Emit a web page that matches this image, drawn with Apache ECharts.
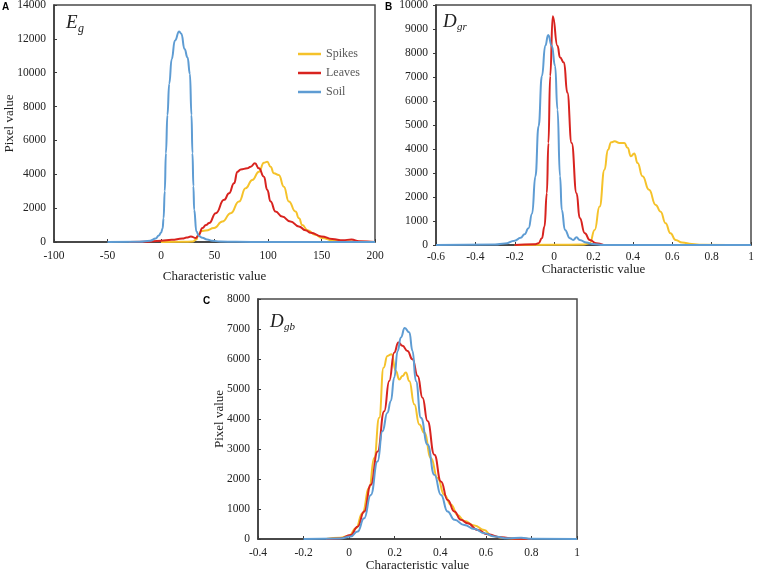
<!DOCTYPE html>
<html>
<head>
<meta charset="utf-8">
<script src="https://cdn.jsdelivr.net/npm/echarts@6/dist/echarts.min.js"></script>
<style>html,body{margin:0;padding:0;background:#fff}#c{width:758px;height:578px}</style>
</head>
<body>
<div id="c"></div>
<script>
// ---------- Panel A (Eg) ----------
const aSpikesX = [0, 20, 30, 33, 35, 38, 41.9, 49.6, 57.4, 65.1, 72.9, 79.1, 85.3, 91.5, 96.2, 99.3, 102.4, 105.5, 110.1, 114.8, 119.5, 125.7, 129, 132, 137, 144, 150.6, 160, 172, 185, 200];
const aSpikesY = [0, 10, 30, 150, 450, 650, 680, 820, 1210, 1700, 2390, 3170, 3660, 4150, 4680, 4740, 4450, 4060, 3960, 3270, 2390, 1800, 1400, 1000, 700, 430, 235, 100, 40, 10, 0];
const aLeavesX = [-30, -15, 0, 10, 20, 24, 27.9, 32.6, 35, 38.8, 42, 45, 51.2, 59, 63.6, 68.3, 71.4, 74.5, 80.7, 83.8, 87.8, 91.5, 96.2, 99.3, 102.4, 107, 113.2, 121, 128.8, 135, 140, 150, 160, 170, 178, 185, 200];
const aLeavesY = [0, 20, 80, 130, 200, 260, 330, 235, 400, 820, 1000, 1120, 1700, 2490, 2880, 3470, 4150, 4290, 4350, 4450, 4650, 4350, 3860, 3080, 2390, 1800, 1500, 1210, 920, 700, 550, 330, 176, 100, 150, 40, 0];
const aSoilX = [-50, -20, -10, -5, -2, 0, 1.5, 2.4, 3.5, 4.6, 6, 7.7, 10, 13, 17, 19, 22, 24.8, 27, 28.5, 29.4, 30.3, 31, 33.1, 35.5, 38.7, 43, 48, 55, 70, 100, 150, 200];
const aSoilY = [0, 20, 80, 200, 380, 550, 800, 1400, 3000, 5250, 7500, 9350, 10800, 11900, 12430, 12300, 11400, 10900, 9940, 7500, 5250, 3300, 1900, 620, 350, 250, 150, 75, 30, 10, 0, 0, 0];

// ---------- Panel B (Dgr) ----------
const bSpikesX = [-0.2, 0, 0.15, 0.181, 0.206, 0.231, 0.256, 0.273, 0.29, 0.307, 0.332, 0.357, 0.373, 0.39, 0.407, 0.424, 0.449, 0.482, 0.516, 0.541, 0.566, 0.591, 0.617, 0.65, 0.7, 0.75, 0.88];
const bSpikesY = [0, 10, 20, 70, 630, 1600, 3140, 3970, 4280, 4320, 4250, 4250, 4050, 3700, 3810, 3420, 2860, 2300, 1670, 1390, 910, 490, 210, 100, 40, 10, 0];
const bLeavesX = [-0.2, -0.1, -0.079, -0.062, -0.049, -0.037, -0.029, -0.02, -0.007, 0.017, 0.03, 0.05, 0.067, 0.089, 0.114, 0.13, 0.156, 0.181, 0.214, 0.25];
const bLeavesY = [0, 30, 70, 280, 770, 2160, 4250, 7040, 9530, 8300, 7810, 7600, 6350, 4250, 2160, 1120, 490, 210, 70, 0];
const bSoilX = [-0.6, -0.3, -0.25, -0.2, -0.17, -0.15, -0.13, -0.112, -0.095, -0.079, -0.062, -0.045, -0.03, -0.012, 0.005, 0.017, 0.03, 0.039, 0.055, 0.08, 0.097, 0.114, 0.13, 0.164, 0.197, 0.25, 0.4, 1];
const bSoilY = [0, 20, 60, 180, 300, 450, 700, 1300, 2860, 4950, 7040, 8300, 8750, 8300, 7460, 5650, 2860, 1460, 630, 280, 210, 320, 210, 100, 40, 0, 0, 0];

// ---------- Panel C (Dgb) ----------
const cSpikesX = [-0.1, -0.04, 0, 0.03, 0.058, 0.088, 0.11, 0.132, 0.151, 0.168, 0.186, 0.205, 0.22, 0.234, 0.249, 0.264, 0.286, 0.308, 0.33, 0.359, 0.388, 0.418, 0.447, 0.476, 0.505, 0.55, 0.593, 0.623, 0.667, 0.74, 0.8];
const cSpikesY = [0, 45, 110, 360, 860, 1700, 2700, 4040, 5710, 6100, 6160, 5600, 5320, 5430, 5550, 5270, 4490, 3820, 3540, 2700, 2030, 1470, 1140, 800, 600, 450, 300, 110, 45, 10, 0];
const cLeavesX = [-0.1, -0.04, 0.007, 0.037, 0.066, 0.095, 0.125, 0.154, 0.176, 0.198, 0.216, 0.234, 0.256, 0.278, 0.301, 0.322, 0.344, 0.374, 0.403, 0.432, 0.462, 0.49, 0.52, 0.564, 0.608, 0.667, 0.725, 0.8];
const cLeavesY = [0, 20, 130, 410, 915, 1810, 2920, 4260, 5270, 6220, 6550, 6440, 6270, 5990, 5430, 4710, 3930, 2810, 1920, 1300, 915, 640, 525, 300, 155, 55, 10, 0];
const cSoilX = [-0.2, -0.04, 0.007, 0.037, 0.066, 0.095, 0.125, 0.146, 0.168, 0.183, 0.198, 0.213, 0.227, 0.244, 0.264, 0.278, 0.293, 0.315, 0.344, 0.374, 0.403, 0.432, 0.462, 0.505, 0.55, 0.593, 0.637, 0.696, 0.755, 0.8, 1];
const cSoilY = [0, 20, 80, 250, 690, 1470, 2590, 3590, 4210, 4600, 5380, 6270, 6720, 7030, 6890, 6270, 5270, 4040, 3150, 2140, 1470, 915, 640, 470, 335, 190, 80, 22, 45, 10, 0];

const seriesNames = ['Spikes', 'Leaves', 'Soil'];
const colors = ['#F5C22A', '#D8231F', '#5E9CD3'];

const serif = '"Liberation Serif","Times New Roman",serif';
const zip = (xs, ys) => xs.map((x, i) => [x, ys[i]]);
const fmt = v => String(Math.round(v * 10) / 10);
const fmtInt = v => String(v);

function mkX(gi, min, max, interval, nameGap, labelMargin) {
  return {
    gridIndex: gi, type: 'value', min: min, max: max, interval: interval,
    name: 'Characteristic value', nameLocation: 'middle', nameGap: nameGap, nameMoveOverlap: false,
    nameTextStyle: { fontFamily: serif, fontSize: 13, color: '#222' },
    axisLine: { onZero: false, lineStyle: { color: '#3a3a3a', width: 1.5 } },
    axisTick: { inside: true, length: 3, lineStyle: { color: '#3a3a3a' } },
    axisLabel: { fontFamily: serif, fontSize: 11.5, color: '#222', margin: labelMargin, formatter: fmt },
    splitLine: { show: false }
  };
}
function mkY(gi, max, interval, name, nameGap, inside) {
  return {
    gridIndex: gi, type: 'value', min: 0, max: max, interval: interval,
    name: name, nameLocation: 'middle', nameGap: nameGap, nameMoveOverlap: false,
    nameTextStyle: { fontFamily: serif, fontSize: 13, color: '#222' },
    axisLine: { show: true, onZero: false, lineStyle: { color: '#3a3a3a', width: 1.5 } },
    axisTick: { show: true, inside: inside, length: 3, lineStyle: { color: '#3a3a3a' } },
    axisLabel: { fontFamily: serif, fontSize: 11.5, color: '#222', margin: 8, formatter: fmtInt },
    splitLine: { show: false }
  };
}
function mkS(name, gi, xs, ys) {
  const idx = seriesNames.indexOf(name);
  return {
    name: name, type: 'line', xAxisIndex: gi, yAxisIndex: gi,
    data: zip(xs, ys), showSymbol: false, symbol: 'none',
    smooth: 0.5, smoothMonotone: 'x',
    lineStyle: { color: colors[idx], width: 2 },
    itemStyle: { color: colors[idx] }
  };
}
const gridBase = { show: true, borderColor: '#4a4a4a', borderWidth: 1.5, containLabel: false, outerBoundsMode: 'none' };

const chart = echarts.init(document.getElementById('c'), null, { renderer: 'canvas' });
chart.setOption({
  animation: false,
  backgroundColor: '#fff',
  grid: [
    Object.assign({ left: 54, right: 383, top: 5, bottom: 336 }, gridBase),
    Object.assign({ left: 436, right: 7, top: 5, bottom: 333 }, gridBase),
    Object.assign({ left: 258, right: 181, top: 299, bottom: 39 }, gridBase)
  ],
  xAxis: [
    mkX(0, -100, 200, 50, 28, 8),
    mkX(1, -0.6, 1, 0.2, 18, 6),
    mkX(2, -0.4, 1, 0.2, 20, 8)
  ],
  yAxis: [
    mkY(0, 14000, 2000, 'Pixel value', 38, true),
    mkY(1, 10000, 1000, '', 40, false),
    mkY(2, 8000, 1000, 'Pixel value', 32, true)
  ],
  legend: {
    data: seriesNames, orient: 'vertical', left: 293, top: 43,
    icon: 'rect', itemWidth: 23, itemHeight: 2.5, itemGap: 7,
    textStyle: { fontFamily: serif, fontSize: 12, color: '#595959', lineHeight: 12 }
  },
  series: [
    mkS('Spikes', 0, aSpikesX, aSpikesY),
    mkS('Leaves', 0, aLeavesX, aLeavesY),
    mkS('Soil', 0, aSoilX, aSoilY),
    mkS('Spikes', 1, bSpikesX, bSpikesY),
    mkS('Leaves', 1, bLeavesX, bLeavesY),
    mkS('Soil', 1, bSoilX, bSoilY),
    mkS('Spikes', 2, cSpikesX, cSpikesY),
    mkS('Leaves', 2, cLeavesX, cLeavesY),
    mkS('Soil', 2, cSoilX, cSoilY)
  ],
  graphic: [
    { type: 'text', left: 2, top: 2, style: { text: 'A', fontFamily: 'Liberation Sans, Arial, sans-serif', fontWeight: 'bold', fontSize: 10, fill: '#000' } },
    { type: 'text', left: 385, top: 2, style: { text: 'B', fontFamily: 'Liberation Sans, Arial, sans-serif', fontWeight: 'bold', fontSize: 10, fill: '#000' } },
    { type: 'text', left: 203, top: 296, style: { text: 'C', fontFamily: 'Liberation Sans, Arial, sans-serif', fontWeight: 'bold', fontSize: 10, fill: '#000' } },
    { type: 'text', left: 66, top: 13, style: { text: 'E', fontFamily: serif, fontStyle: 'italic', fontSize: 19, fill: '#222' } },
    { type: 'text', left: 78, top: 23, style: { text: 'g', fontFamily: serif, fontStyle: 'italic', fontSize: 12, fill: '#222' } },
    { type: 'text', left: 443, top: 12, style: { text: 'D', fontFamily: serif, fontStyle: 'italic', fontSize: 19, fill: '#222' } },
    { type: 'text', left: 457, top: 22, style: { text: 'gr', fontFamily: serif, fontStyle: 'italic', fontSize: 11, fill: '#222' } },
    { type: 'text', left: 270, top: 312, style: { text: 'D', fontFamily: serif, fontStyle: 'italic', fontSize: 19, fill: '#222' } },
    { type: 'text', left: 284, top: 322, style: { text: 'gb', fontFamily: serif, fontStyle: 'italic', fontSize: 11, fill: '#222' } }
  ]
});
</script>
</body>
</html>
